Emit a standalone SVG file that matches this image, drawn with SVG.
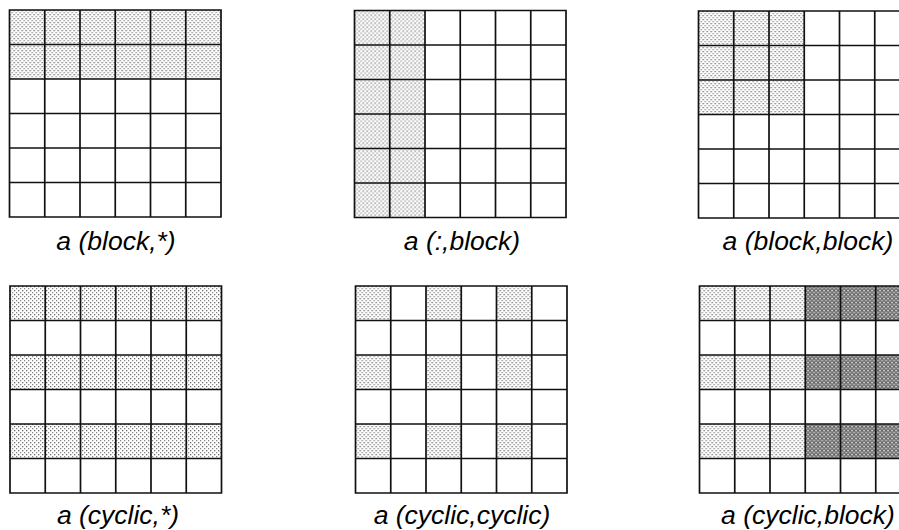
<svg xmlns="http://www.w3.org/2000/svg" xmlns:xlink="http://www.w3.org/1999/xlink" width="899" height="530" viewBox="0 0 899 530">
<style>
.grid{fill:none;stroke:#111;stroke-width:1.7}
.lt{fill:url(#light)}
.dk{fill:url(#dark)}
.lbl{font-family:"Liberation Sans",Arial,sans-serif;font-style:italic;font-size:26.5px;fill:#000;text-anchor:middle}
</style>
<defs>
<pattern id="light" patternUnits="userSpaceOnUse" width="4" height="4">
<rect width="4" height="4" fill="#fff"/>
<rect x="0" y="0" width="1.3" height="1.3" fill="#6a6a6a"/>
<rect x="2" y="2" width="1.3" height="1.3" fill="#8a8a8a"/>
</pattern>
<pattern id="dark" patternUnits="userSpaceOnUse" width="4" height="4">
<rect width="4" height="4" fill="#7a7a7a"/>
<rect x="0" y="0" width="1.2" height="1.2" fill="#fff"/>
<rect x="2" y="2" width="1.2" height="1.2" fill="#ccc"/>
<rect x="2" y="0" width="1" height="1" fill="#444"/>
</pattern>
<path id="gl" class="grid" d="M0 0H211.5V207H0Z M35.25 0V207 M70.5 0V207 M105.75 0V207 M141 0V207 M176.25 0V207 M0 34.5H211.5 M0 69H211.5 M0 103.5H211.5 M0 138H211.5 M0 172.5H211.5"/>
</defs>
<rect width="899" height="530" fill="#fff"/>

<g id="block-star" transform="translate(9.5,10)">
<rect class="lt" x="0" y="0" width="211.5" height="69"/>
<use xlink:href="#gl" href="#gl"/>
</g>

<g id="colon-block" transform="translate(354.5,10.5)">
<rect class="lt" x="0" y="0" width="70.5" height="207"/>
<use xlink:href="#gl" href="#gl"/>
</g>

<g id="block-block" transform="translate(698.5,11)">
<rect class="lt" x="0" y="0" width="105.75" height="103.5"/>
<use xlink:href="#gl" href="#gl"/>
</g>

<g id="cyclic-star" transform="translate(10,286)">
<rect class="lt" x="0" y="0" width="211.5" height="34.5"/>
<rect class="lt" x="0" y="69" width="211.5" height="34.5"/>
<rect class="lt" x="0" y="138" width="211.5" height="34.5"/>
<use xlink:href="#gl" href="#gl"/>
</g>

<g id="cyclic-cyclic" transform="translate(355.5,286)">
<rect class="lt" x="0" y="0" width="35.25" height="34.5"/>
<rect class="lt" x="70.5" y="0" width="35.25" height="34.5"/>
<rect class="lt" x="141" y="0" width="35.25" height="34.5"/>
<rect class="lt" x="0" y="69" width="35.25" height="34.5"/>
<rect class="lt" x="70.5" y="69" width="35.25" height="34.5"/>
<rect class="lt" x="141" y="69" width="35.25" height="34.5"/>
<rect class="lt" x="0" y="138" width="35.25" height="34.5"/>
<rect class="lt" x="70.5" y="138" width="35.25" height="34.5"/>
<rect class="lt" x="141" y="138" width="35.25" height="34.5"/>
<use xlink:href="#gl" href="#gl"/>
</g>

<g id="cyclic-block" transform="translate(699.5,286)">
<rect class="lt" x="0" y="0" width="105.75" height="34.5"/>
<rect class="dk" x="105.75" y="0" width="105.75" height="34.5"/>
<rect class="lt" x="0" y="69" width="105.75" height="34.5"/>
<rect class="dk" x="105.75" y="69" width="105.75" height="34.5"/>
<rect class="lt" x="0" y="138" width="105.75" height="34.5"/>
<rect class="dk" x="105.75" y="138" width="105.75" height="34.5"/>
<use xlink:href="#gl" href="#gl"/>
</g>

<g id="labels">
<text class="lbl" x="116" y="250">a (block,*)</text>
<text class="lbl" x="462" y="250">a (:,block)</text>
<text class="lbl" x="808" y="250">a (block,block)</text>
<text class="lbl" x="118" y="524">a (cyclic,*)</text>
<text class="lbl" x="462" y="524">a (cyclic,cyclic)</text>
<text class="lbl" x="808" y="524">a (cyclic,block)</text>
</g>
<g id="connectors"/>
</svg>
